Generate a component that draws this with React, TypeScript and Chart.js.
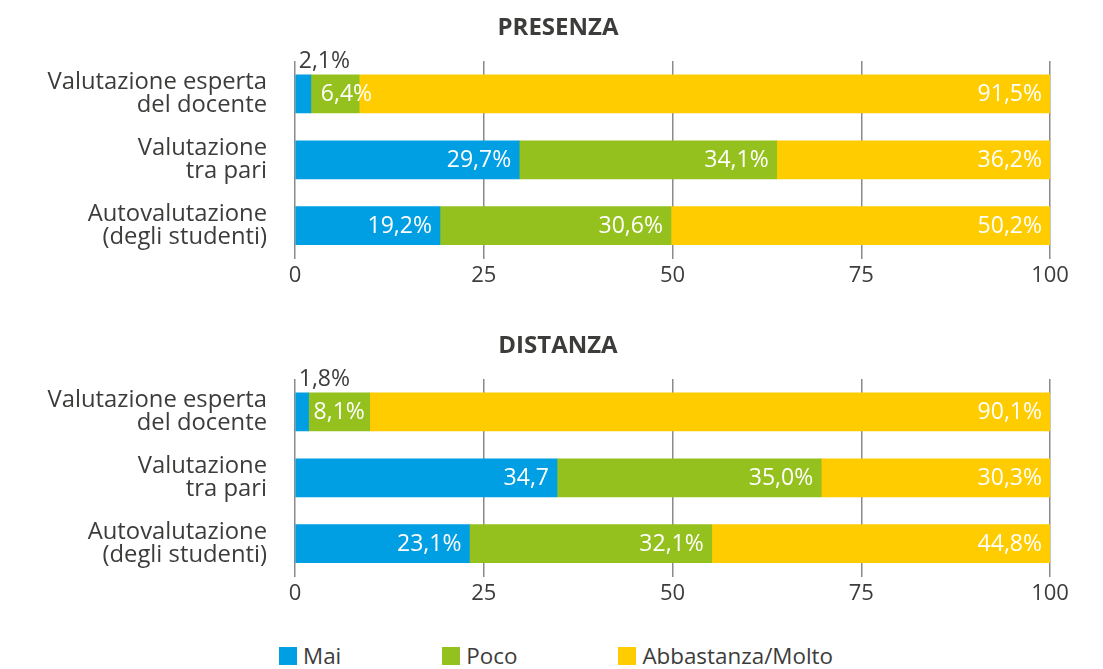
import React, { useEffect, useRef } from 'react';
import { Chart, registerables } from 'chart.js';

Chart.register(...registerables);

// ---- data ----
const categories: string[][] = [
  ['Valutazione esperta', 'del docente'],
  ['Valutazione', 'tra pari'],
  ['Autovalutazione', '(degli studenti)'],
];
const seriesNames = ['Mai', 'Poco', 'Abbastanza/Molto'];
const seriesColors = ['#009fe3', '#95c11f', '#ffcc00'];
const xTicks = [0, 25, 50, 75, 100];

const presenzaTitle = 'PRESENZA';
const presenzaMai = [2.1, 29.7, 19.2];
const presenzaPoco = [6.4, 34.1, 30.6];
const presenzaAbbastanza = [91.5, 36.2, 50.2];

const distanzaTitle = 'DISTANZA';
const distanzaMai = [1.8, 34.7, 23.1];
const distanzaPoco = [8.1, 35.0, 32.1];
const distanzaAbbastanza = [90.1, 30.3, 44.8];

const fmt = (v: number) => v.toFixed(1).replace('.', ',') + '%';
const presenzaLabels = [presenzaMai.map(fmt), presenzaPoco.map(fmt), presenzaAbbastanza.map(fmt)];
const distanzaMaiLabels = ['1,8%', '34,7', '23,1%']; // source omits % on 34,7
const distanzaLabels = [distanzaMaiLabels, distanzaPoco.map(fmt), distanzaAbbastanza.map(fmt)];

// ---- style ----
const FONT = "'Open Sans', 'Liberation Sans', sans-serif";
const TEXT = '#3c3c3b';
const GRID = '#8a8a8a';
const W = 1103;
const H = 318;

function makeLabelPlugin(labels: string[][]) {
  return {
    id: 'barValueLabels',
    afterLayout(chart: any) {
      // let the category labels extend to the canvas edge (avoid clipping)
      const y = chart.scales.y;
      if (y) y.left = 0;
    },
    afterDatasetsDraw(chart: any) {
      const ctx = chart.ctx as CanvasRenderingContext2D;
      ctx.save();
      ctx.font = `23px ${FONT}`;
      chart.data.datasets.forEach((ds: any, d: number) => {
        const meta = chart.getDatasetMeta(d);
        meta.data.forEach((el: any, i: number) => {
          const { x, y, base, height } = el.getProps(['x', 'y', 'base', 'height'], true);
          const text = labels[d][i];
          const left = Math.min(x, base);
          const right = Math.max(x, base);
          const w = right - left;
          const tw = ctx.measureText(text).width;
          if (d === 0 && ds.data[i] < 5) {
            ctx.fillStyle = TEXT;
            ctx.textAlign = 'left';
            ctx.textBaseline = 'alphabetic';
            ctx.fillText(text, left + 3, y - height / 2 - 7);
            return;
          }
          ctx.fillStyle = '#ffffff';
          ctx.textBaseline = 'middle';
          if (tw + 16 <= w) {
            ctx.textAlign = 'right';
            ctx.fillText(text, right - 8, y + 1);
          } else if (tw + 4 <= w) {
            ctx.textAlign = 'center';
            ctx.fillText(text, (left + right) / 2, y + 1);
          } else {
            ctx.textAlign = 'left';
            ctx.fillText(text, left + 10, y + 1);
          }
        });
      });
      ctx.restore();
    },
  };
}

function makeConfig(title: string, mai: number[], poco: number[], abb: number[], labels: string[][]): any {
  const values = [mai, poco, abb];
  return {
    type: 'bar',
    data: {
      labels: categories,
      datasets: seriesNames.map((name, k) => ({
        label: name,
        data: values[k],
        backgroundColor: seriesColors[k],
        borderWidth: 0,
        barThickness: 38,
      })),
    },
    options: {
      indexAxis: 'y',
      responsive: false,
      animation: false,
      devicePixelRatio: 1,
      layout: { padding: { left: 66, right: 53, top: 0, bottom: 25 } },
      plugins: {
        legend: { display: false },
        tooltip: { enabled: false },
        title: {
          display: true,
          text: title,
          color: TEXT,
          font: { family: FONT, size: 24, weight: 'bold', lineHeight: 1 },
          padding: { top: 16.5, bottom: 20.5 },
        },
      },
      scales: {
        x: {
          stacked: true,
          min: 0,
          max: 100,
          afterBuildTicks: (s: any) => {
            s.ticks = xTicks.map((v) => ({ value: v }));
          },
          grid: { color: GRID, lineWidth: 1.5, drawTicks: false },
          border: { display: false },
          ticks: {
            color: TEXT,
            padding: 4,
            font: { family: FONT, size: 22, lineHeight: 1.2 },
          },
        },
        y: {
          stacked: true,
          afterFit: (s: any) => {
            s.width = 229;
          },
          grid: { display: false, drawTicks: false },
          border: { display: false },
          ticks: {
            color: TEXT,
            padding: 28,
            font: { family: FONT, size: 23.8, lineHeight: 0.98 },
          },
        },
      },
    },
    plugins: [makeLabelPlugin(labels)],
  };
}

function BarPanel(props: { title: string; mai: number[]; poco: number[]; abb: number[]; labels: string[][] }) {
  const ref = useRef<HTMLCanvasElement | null>(null);
  useEffect(() => {
    if (!ref.current) return;
    const chart = new Chart(ref.current, makeConfig(props.title, props.mai, props.poco, props.abb, props.labels));
    return () => chart.destroy();
  }, []);
  return <canvas ref={ref} width={W} height={H} style={{ display: 'block', width: W, height: H }} />;
}

export default function App() {
  return (
    <div
      style={{
        position: 'fixed',
        left: 0,
        top: 0,
        width: W,
        height: 669,
        background: '#ffffff',
        overflow: 'hidden',
      }}
    >
      <BarPanel title={presenzaTitle} mai={presenzaMai} poco={presenzaPoco} abb={presenzaAbbastanza} labels={presenzaLabels} />
      <BarPanel title={distanzaTitle} mai={distanzaMai} poco={distanzaPoco} abb={distanzaAbbastanza} labels={distanzaLabels} />
      <div
        style={{
          position: 'absolute',
          left: 279,
          top: 644,
          display: 'flex',
          alignItems: 'center',
          gap: 101,
          fontFamily: FONT,
          fontSize: 22.4,
          lineHeight: '24px',
          color: TEXT,
          whiteSpace: 'nowrap',
        }}
      >
        {seriesNames.map((name, k) => (
          <div key={name} style={{ display: 'flex', alignItems: 'center' }}>
            <span style={{ display: 'inline-block', width: 18, height: 18, background: seriesColors[k], marginRight: 6 }} />
            <span>{name}</span>
          </div>
        ))}
      </div>
    </div>
  );
}
